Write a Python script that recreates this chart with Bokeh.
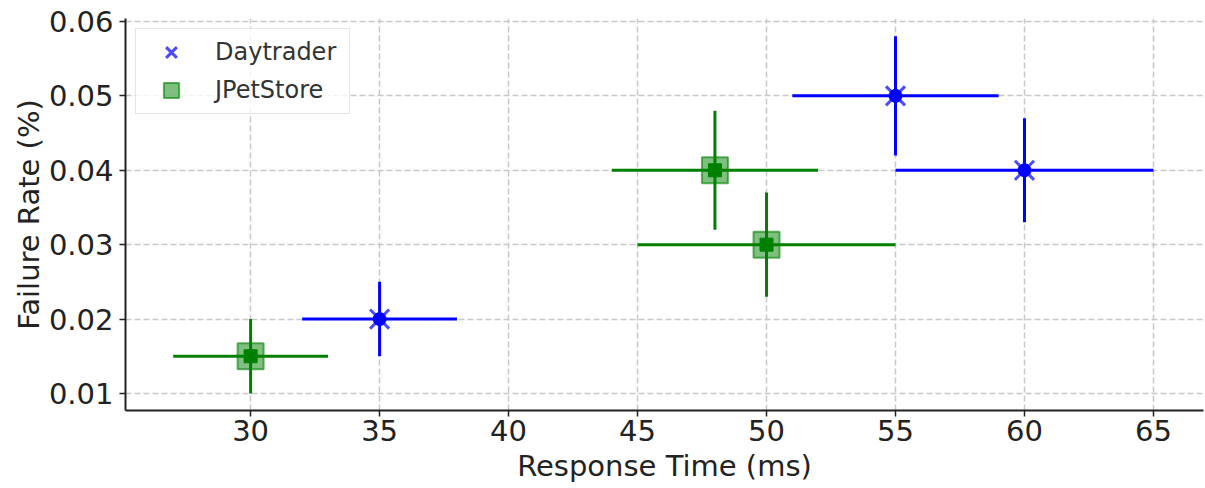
import numpy as np
from bokeh.plotting import figure
from bokeh.models import Range1d, FixedTicker, PrintfTickFormatter, Legend, LegendItem
from bokeh.embed import file_html
from bokeh.resources import INLINE

# ---- data ----
series_names = ["Daytrader", "JPetStore"]
day_rt = [35, 55, 60]
day_fr = [0.02, 0.05, 0.04]
day_rt_err = [3, 4, 5]
day_fr_err = [0.005, 0.008, 0.007]

jps_rt = [30, 48, 50]
jps_fr = [0.015, 0.04, 0.03]
jps_rt_err = [3, 4, 5]
jps_fr_err = [0.005, 0.008, 0.007]

x_ticks = [30, 35, 40, 45, 50, 55, 60, 65]
y_ticks = [0.01, 0.02, 0.03, 0.04, 0.05, 0.06]

FONT = "DejaVu Sans"
BLUE = "#0000ff"
GREEN = "#008000"

p = figure(width=1205, height=488, output_backend="svg", toolbar_location=None,
           x_range=Range1d(25.15, 66.94), y_range=Range1d(0.00771, 0.0604),
           min_border_left=125, min_border_top=18, min_border_right=2, min_border_bottom=78)
p.outline_line_color = None
p.background_fill_color = "white"

# grid
for g in (p.xgrid, p.ygrid):
    g.grid_line_color = "#c8c8c8"
    g.grid_line_width = 1.5
    g.grid_line_dash = "6 3"
p.xgrid.ticker = FixedTicker(ticks=x_ticks)
p.ygrid.ticker = FixedTicker(ticks=y_ticks)

# axes
p.xaxis.ticker = FixedTicker(ticks=x_ticks)
p.yaxis.ticker = FixedTicker(ticks=y_ticks)
p.yaxis.formatter = PrintfTickFormatter(format="%.2f")
p.xaxis.axis_label = "Response Time (ms)"
p.yaxis.axis_label = "Failure Rate (%)"
for ax in (p.xaxis, p.yaxis):
    ax.axis_label_text_font = FONT
    ax.axis_label_text_font_size = "29px"
    ax.axis_label_text_font_style = "normal"
    ax.axis_label_text_color = "#222222"
    ax.major_label_text_font = FONT
    ax.major_label_text_font_size = "29px"
    ax.major_label_text_color = "#222222"
    ax.axis_line_color = "#222222"
    ax.axis_line_width = 2
    ax.major_tick_line_color = "#222222"
    ax.major_tick_line_width = 1.5
    ax.major_tick_out = 6
    ax.major_tick_in = 0
    ax.minor_tick_line_color = None
p.xaxis.major_label_standoff = 3
p.xaxis.axis_label_standoff = 5
p.yaxis.major_label_standoff = 6
p.yaxis.axis_label_standoff = 0

def errorbars(xs, ys, xe, ye, color):
    xs = np.array(xs, float); ys = np.array(ys, float)
    xe = np.array(xe, float); ye = np.array(ye, float)
    p.segment(x0=xs - xe, y0=ys, x1=xs + xe, y1=ys, line_color=color, line_width=3)
    p.segment(x0=xs, y0=ys - ye, x1=xs, y1=ys + ye, line_color=color, line_width=3)

# big markers (legend ones)
r_day = p.scatter(day_rt, day_fr, marker="x", size=27, line_color=BLUE, line_alpha=0.7, line_width=3)
r_jps = p.scatter(jps_rt, jps_fr, marker="square", size=26, fill_color=GREEN, fill_alpha=0.5,
                  line_color=GREEN, line_alpha=0.6, line_width=2)

errorbars(day_rt, day_fr, day_rt_err, day_fr_err, BLUE)
errorbars(jps_rt, jps_fr, jps_rt_err, jps_fr_err, GREEN)

p.scatter(day_rt, day_fr, marker="circle", size=13, fill_color=BLUE, line_color=BLUE)
p.scatter(jps_rt, jps_fr, marker="square", size=13, fill_color=GREEN, line_color=GREEN)

legend = Legend(items=[LegendItem(label=series_names[0], renderers=[r_day]),
                       LegendItem(label=series_names[1], renderers=[r_jps])],
                location="top_left")
legend.margin = 10
legend.padding = 4
legend.spacing = 0
legend.glyph_width = 62
legend.glyph_height = 38
legend.label_standoff = 13
legend.label_width = 130
legend.label_text_font = FONT
legend.label_text_font_size = "24px"
legend.label_text_color = "#333333"
legend.border_line_color = "#cccccc"
legend.border_line_width = 1.5
legend.background_fill_alpha = 0.8
p.add_layout(legend)

open("out.html", "w").write(file_html(p, INLINE))
